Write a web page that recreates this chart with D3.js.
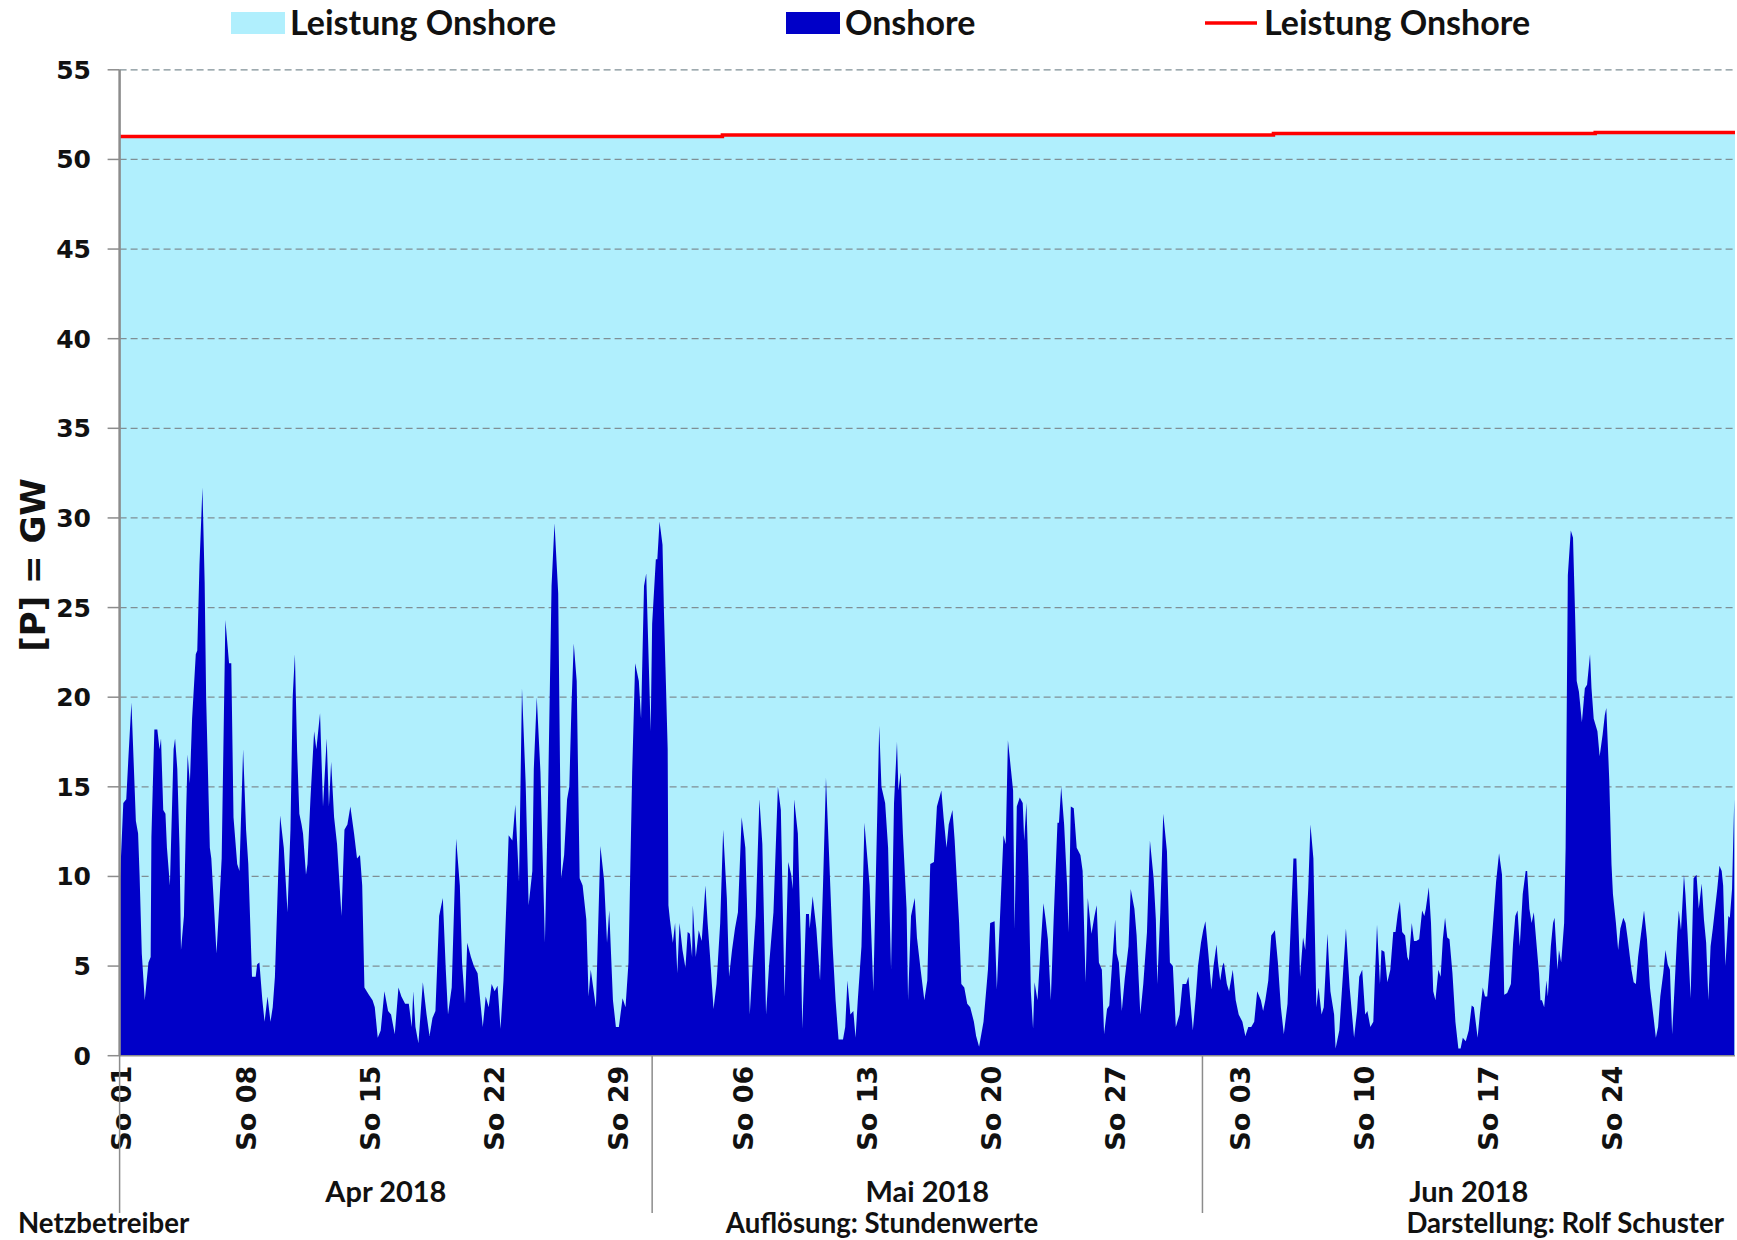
<!DOCTYPE html>
<html>
<head>
<meta charset="utf-8">
<script src="https://cdn.jsdelivr.net/npm/d3@7"></script>
<style>
  body { margin: 0; background: #fff; }
  svg { display: block; }
</style>
</head>
<body>
<div id="chart"></div>
<script>
// Onshore-Einspeisung in GW, Stützpunkte [Stunde ab 01.04.2018 00:00, GW]
const onshoreApr = [
  [0,9.3],[5,14.1],[9,14.3],[12,16.7],[16,19.7],[22,13.1],[25,12.4],[27,10.1],[30,5.7],[34,3.1],[39,5.2],[42,5.5],
  [43,12.2],[47,18.2],[51,18.2],[54,17.1],[56,17.7],[59,13.7],[62,13.5],[64,11.6],[68,9.5],[73,17.1],[75,17.7],
  [78,16.0],[81,11.6],[83,5.9],[87,7.8],[90,13.7],[92,16.8],[95,15.2],[98,18.8],[103,22.4],[105,22.6],[108,27.4],
  [112,31.7],[115,26.4],[117,20.0],[122,11.6],[124,11.0],[127,8.8],[131,5.7],[135,8.6],[138,11.0],[143,24.3],
  [148,21.9],[151,21.9],[154,13.3],[159,10.7],[162,10.3],[167,17.1],[171,12.6],[174,10.7],[179,4.4],[184,4.4],
  [186,5.1],[189,5.2],[193,3.1],[196,1.9],[200,3.3],[204,1.9],[207,2.7],[210,4.4],[217,13.4],[222,11.6],[227,8.0],
  [231,12.6],[234,20.0],[237,22.4],[240,17.0],[243,13.5],[246,12.9],[248,12.4],[252,10.1],[254,10.7],[258,14.3],
  [263,18.1],[266,17.1],[271,19.1],[275,13.9],[280,17.7],[283,13.9],[286,16.4],[290,13.3],[294,11.8],[300,7.8],
  [304,12.6],[308,12.9],[312,13.9],[317,12.4],[321,11.0],[325,11.2],[328,9.5],[331,3.8],[337,3.4],[342,3.1],
  [345,2.7],[349,1.0],[353,1.4],[358,3.6],[363,2.5],[367,2.3],[372,1.2],[377,3.8],[381,3.3],[386,2.9],[391,2.9],
  [395,1.6],[397,3.6],[400,1.6],[404,0.7],[410,4.1],[415,2.3],[419,1.1],[423,2.1],[427,2.5],[432,7.8],[437,8.8],
  [441,4.8],[444,2.3],[449,3.8],[455,12.1],[460,9.5],[463,5.2],[467,2.9],[470,6.3],[475,5.5],[479,5.0],[484,4.6],
  [491,1.6],[495,3.3],[499,2.7],[503,4.0],[507,3.6],[511,3.9],[515,1.5],[519,4.2],[523,8.6],[526,12.3],[531,12.0],
  [535,14.0],[540,9.7],[544,20.5],[549,15.2],[553,8.4],[558,10.3],[560,16.0],[564,20.0],[569,15.8],[575,6.3],
  [579,13.9],[584,26.2],[588,29.7],[593,25.8],[597,9.9],[601,11.2],[605,14.3],[608,15.0],[611,19.6],[614,23.0],
  [618,20.9],[622,9.9],[626,9.5],[631,7.6],[634,3.3],[637,4.8],[641,3.6],[644,2.7],[650,11.7],[655,9.8],[659,6.3],
  [662,8.1],[667,3.1],[671,1.6],[675,1.6],[680,3.2],[684,2.7],[688,5.2],[693,15.8],[697,21.9],[702,20.9],
  [705,18.8],[709,26.2],[712,26.9],[718,18.1]
];

const onshoreMai = [
  [720,24.1],[725,27.7],[727,27.7],[730,29.8],[734,28.5],[736,24.7],[738,21.7],[741,17.1],[742,8.4],[744,7.6],
  [748,6.3],[751,7.4],[754,4.6],[757,7.4],[761,5.9],[765,4.9],[768,6.9],[771,6.8],[774,5.5],[775,8.4],[779,5.5],
  [783,7.0],[787,6.4],[789,7.6],[792,9.5],[795,7.4],[798,5.7],[803,2.6],[807,4.0],[812,7.4],[816,12.6],[821,8.8],
  [824,4.4],[828,5.9],[832,7.1],[836,8.0],[841,13.3],[846,11.6],[848,8.8],[852,2.3],[856,5.2],[860,7.8],[865,14.3],
  [869,11.8],[874,2.3],[878,5.0],[884,8.0],[890,15.0],[894,13.7],[899,3.3],[904,10.8],[908,10.1],[910,9.3],
  [912,14.3],[917,12.4],[921,6.3],[923,1.5],[928,7.9],[932,7.9],[933,7.1],[937,8.9],[942,7.1],[947,4.2],[951,9.5],
  [955,15.5],[959,11.4],[964,6.1],[968,3.1],[972,0.9],[978,0.9],[981,1.6],[984,4.2],[988,2.3],[992,2.5],[995,1.0],
  [998,3.1],[1003,6.1],[1007,13.0],[1011,11.0],[1014,9.5],[1019,3.6],[1023,11.0],[1027,18.4],[1030,15.0],
  [1035,14.1],[1039,11.6],[1043,4.8],[1047,14.1],[1051,17.5],[1053,14.8],[1056,15.8],[1059,12.4],[1064,8.2],
  [1066,3.1],[1070,7.8],[1075,8.8],[1078,6.6],[1083,4.8],[1088,3.1],[1092,4.2],[1096,10.7],[1101,10.8],[1105,13.9],
  [1111,14.8],[1114,13.3],[1118,11.6],[1121,12.9],[1126,13.7],[1129,12.0],[1135,7.4],[1138,4.0],[1142,3.8],
  [1146,2.9],[1150,2.7],[1155,1.9],[1158,1.1],[1162,0.5],[1165,1.2],[1168,1.9],[1174,4.8],[1177,7.4],[1183,7.5],
  [1186,3.7],[1191,8.4],[1195,12.3],[1198,11.8],[1201,17.6],[1205,16.0],[1208,14.8],[1210,7.1],[1213,13.9],
  [1217,14.4],[1221,14.1],[1223,12.0],[1226,14.1],[1229,9.9],[1232,3.6],[1235,1.5],[1237,4.1],[1241,3.1],
  [1245,5.9],[1249,8.5],[1252,7.6],[1255,6.5],[1259,3.1],[1263,7.8],[1268,13.0],[1270,13.0],[1273,15.0],
  [1277,12.9],[1281,9.5],[1283,6.9],[1286,13.9],[1290,13.8],[1294,11.6],[1299,11.2],[1302,10.3],[1306,4.1],
  [1309,8.8],[1314,6.8],[1318,7.8],[1321,8.4],[1324,5.2],[1328,4.8],[1331,1.2],[1335,2.6],[1338,2.8],[1341,4.6],
  [1346,7.6],[1348,5.7],[1351,5.2],[1355,2.5],[1359,4.3],[1364,6.1],[1367,9.3],[1372,8.2],[1375,6.7],[1380,2.3],
  [1384,4.0],[1389,6.9],[1393,12.0],[1398,9.9],[1401,7.6],[1403,4.0],[1407,8.0],[1411,13.5],[1416,11.4],
  [1420,5.2],[1424,5.0],[1428,1.6],[1433,2.3],[1437,4.0],[1442,4.0],[1445,4.4],[1451,1.4],[1455,3.3],[1458,5.0],
  [1462,6.3]
];

const onshoreJun = [
  [1465,7.0],[1468,7.5],[1472,5.7],[1476,3.7],[1479,5.0],[1483,6.2],[1485,5.2],[1488,4.2],[1491,5.0],[1493,5.2],
  [1497,4.0],[1500,3.6],[1505,4.8],[1509,3.1],[1513,2.3],[1518,1.9],[1522,1.1],[1526,1.6],[1530,1.6],[1534,1.9],
  [1538,3.6],[1543,3.1],[1546,2.5],[1549,3.1],[1553,4.2],[1557,6.7],[1562,7.0],[1566,5.2],[1570,2.7],[1574,1.2],
  [1579,2.9],[1583,6.9],[1587,11.0],[1591,11.0],[1596,4.4],[1600,6.6],[1603,5.9],[1607,9.3],[1610,12.9],
  [1614,11.0],[1618,2.7],[1621,3.8],[1625,2.3],[1628,2.7],[1633,6.8],[1637,3.6],[1642,2.3],[1644,0.4],[1649,1.4],
  [1652,3.3],[1658,7.1],[1663,3.8],[1669,1.0],[1673,2.5],[1676,4.4],[1680,4.8],[1684,2.3],[1687,2.5],[1691,1.6],
  [1695,1.9],[1697,4.2],[1700,7.3],[1704,4.0],[1706,5.9],[1710,5.8],[1714,4.1],[1718,4.8],[1722,6.9],[1725,6.9],
  [1728,7.9],[1731,8.6],[1734,6.9],[1738,6.7],[1741,5.5],[1743,5.3],[1747,7.4],[1750,6.4],[1753,6.4],[1757,6.5],
  [1761,8.1],[1764,7.8],[1766,8.2],[1770,9.4],[1773,7.4],[1776,3.6],[1779,3.1],[1783,4.8],[1786,4.4],[1789,6.5],
  [1792,7.7],[1795,6.6],[1798,6.5],[1802,4.6],[1806,1.9],[1810,0.4],[1813,0.4],[1816,1.0],[1820,0.8],[1824,1.4],
  [1828,2.8],[1831,2.7],[1836,1.0],[1839,2.3],[1843,3.8],[1846,3.3],[1849,3.3],[1852,4.8],[1856,6.9],[1861,9.7],
  [1865,11.3],[1869,10.1],[1872,3.4],[1876,3.5],[1881,4.0],[1884,6.3],[1887,7.8],[1890,8.1],[1893,6.1],[1897,9.0],
  [1901,10.3],[1903,10.3],[1906,8.2],[1909,7.4],[1912,8.0],[1919,4.6],[1921,3.1],[1923,3.1],[1926,2.7],[1929,4.2],
  [1931,3.3],[1935,6.1],[1938,7.4],[1940,7.7],[1944,4.8],[1946,5.9],[1949,5.2],[1953,7.4],[1955,11.6],[1958,26.8],
  [1962,29.3],[1965,28.9],[1968,24.3],[1970,20.9],[1973,20.3],[1977,18.6],[1981,20.5],[1984,20.7],[1988,22.4],
  [1990,20.5],[1993,18.8],[1998,18.1],[2001,16.7],[2005,17.9],[2008,19.0],[2010,19.4],[2014,15.4],[2017,10.7],
  [2019,9.0],[2023,7.4],[2026,5.9],[2029,7.1],[2033,7.7],[2036,7.4],[2039,6.5],[2044,4.8],[2047,4.1],[2050,4.0],
  [2053,5.5],[2056,6.5],[2061,8.1],[2065,6.5],[2069,3.8],[2074,2.1],[2077,1.0],[2080,1.6],[2083,3.3],[2087,4.6],
  [2090,5.9],[2093,5.1],[2096,4.8],[2099,1.2],[2102,3.6],[2106,6.9],[2108,8.1],[2111,7.0],[2115,10.1],[2117,9.0],
  [2120,6.7],[2124,3.2],[2128,9.9],[2132,10.1],[2135,8.2],[2139,9.6],[2142,7.6],[2145,6.3],[2148,3.1],[2151,6.1],
  [2154,7.1],[2157,8.2],[2160,9.3],[2163,10.6],[2166,10.3],[2168,9.5],[2171,5.0],[2175,7.8],[2177,7.7],[2180,9.3],
  [2183,14.3]
];

// installierte Leistung Onshore (Stufen), Stunde ab Beginn / GW
const leistungStunden = [0, 815, 1560, 1995, 2184];
const leistungGW = [51.28, 51.36, 51.44, 51.5, 51.5];

const yTicks = [0, 5, 10, 15, 20, 25, 30, 35, 40, 45, 50, 55];
const monate = ["Apr 2018", "Mai 2018", "Jun 2018"];
const legende = ["Leistung Onshore", "Onshore", "Leistung Onshore"];
const fussnoten = ["Netzbetreiber", "Auflösung: Stundenwerte", "Darstellung: Rolf Schuster"];

const width = 1737, height = 1240;
const colors = { leistung: "#b0effd", onshore: "#0000c8", linie: "#ff0000", grid: "#7f8f95", axis: "#8c8c8c" };
const narrow = "Lato, 'Open Sans', sans-serif";
const wide = "'DejaVu Sans', Verdana, sans-serif";

const start = new Date(Date.UTC(2018, 3, 1));
const end = new Date(Date.UTC(2018, 6, 1));
const t = h => d3.utcHour.offset(start, h);

const x = d3.scaleUtc().domain([start, end]).range([119.6, 1735]);
const y = d3.scaleLinear().domain([0, 55]).range([1055.7, 69.8]);

const onshore = onshoreApr.concat(onshoreMai, onshoreJun);
const leistung = leistungStunden.map((h, i) => [h, leistungGW[i]]);

const svg = d3.select("#chart").append("svg")
  .attr("width", width).attr("height", height)
  .attr("viewBox", [0, 0, width, height]);

svg.append("rect").attr("width", width).attr("height", height).attr("fill", "#fff");

// hellblaue Fläche bis zur installierten Leistung
svg.append("path")
  .datum(leistung)
  .attr("fill", colors.leistung)
  .attr("d", d3.area().curve(d3.curveStepAfter)
    .x(d => x(t(d[0]))).y0(y(0)).y1(d => y(d[1])));

// Gitterlinien
const grid = svg.append("g");
grid.selectAll("line.grid").data(yTicks.filter(v => v > 0)).join("line")
  .attr("class", "grid")
  .attr("x1", x(start)).attr("x2", x(end))
  .attr("y1", d => y(d)).attr("y2", d => y(d))
  .attr("stroke", colors.grid).attr("stroke-width", 1.3)
  .attr("stroke-dasharray", "7,4");
grid.selectAll("line.tick").data(yTicks).join("line")
  .attr("class", "tick")
  .attr("x1", x(start) - 12).attr("x2", x(start))
  .attr("y1", d => y(d)).attr("y2", d => y(d))
  .attr("stroke", colors.axis).attr("stroke-width", 1.5);

// Onshore-Einspeisung
svg.append("path")
  .datum(onshore)
  .attr("fill", colors.onshore)
  .attr("d", d3.area()
    .x(d => x(t(d[0]))).y0(y(0)).y1(d => y(d[1])));

// Leistungslinie
svg.append("path")
  .datum(leistung)
  .attr("fill", "none")
  .attr("stroke", colors.linie)
  .attr("stroke-width", 3.5)
  .attr("d", d3.line().curve(d3.curveStepAfter)
    .x(d => x(t(d[0]))).y(d => y(d[1])));

// Achsen
svg.append("line")
  .attr("x1", x(start)).attr("x2", x(start))
  .attr("y1", y(55)).attr("y2", y(0))
  .attr("stroke", colors.axis).attr("stroke-width", 2.5);
svg.append("line")
  .attr("x1", x(start)).attr("x2", x(end))
  .attr("y1", y(0)).attr("y2", y(0))
  .attr("stroke", colors.axis).attr("stroke-width", 1.5);

// Y-Beschriftung
svg.append("g").selectAll("text").data(yTicks).join("text")
  .attr("x", 91).attr("y", d => y(d)).attr("dy", "0.36em")
  .attr("text-anchor", "end")
  .attr("font-family", wide).attr("font-weight", "bold").attr("font-size", 25)
  .attr("fill", "#111")
  .text(d => d);

svg.append("text")
  .attr("transform", `translate(45,${565}) rotate(-90)`)
  .attr("text-anchor", "middle")
  .attr("font-family", wide).attr("font-weight", "bold").attr("font-size", 34)
  .attr("fill", "#111")
  .text("[P] = GW");

// X-Beschriftung: Sonntage
const sonntage = d3.utcSunday.range(start, end);
const fmtTag = d3.utcFormat("%d");
svg.append("g").selectAll("text").data(sonntage).join("text")
  .attr("transform", d => `translate(${x(d) + 2},${y(0) + 10}) rotate(-90)`)
  .attr("dy", "0.36em")
  .attr("text-anchor", "end")
  .attr("font-family", wide).attr("font-weight", "bold").attr("font-size", 27)
  .attr("fill", "#111")
  .text(d => "So " + fmtTag(d));

// Monatstrenner und Monatsnamen
const monatsStarts = d3.utcMonth.range(start, end);
svg.append("g").selectAll("line").data(monatsStarts).join("line")
  .attr("x1", d => x(d)).attr("x2", d => x(d))
  .attr("y1", y(0)).attr("y2", 1213)
  .attr("stroke", colors.axis).attr("stroke-width", 1.5);

svg.append("g").selectAll("text").data(monatsStarts).join("text")
  .attr("x", d => (x(d) + x(d3.utcMonth.offset(d, 1))) / 2)
  .attr("y", 1192).attr("dy", "0.36em")
  .attr("text-anchor", "middle")
  .attr("font-family", narrow).attr("font-weight", "bold").attr("font-size", 29)
  .attr("fill", "#111")
  .text((d, i) => monate[i]);

// Fußzeile
const fussX = [18, 882, 1724];
const fussAnchor = ["start", "middle", "end"];
svg.append("g").selectAll("text").data(fussnoten).join("text")
  .attr("x", (d, i) => fussX[i]).attr("y", 1223).attr("dy", "0.36em")
  .attr("text-anchor", (d, i) => fussAnchor[i])
  .attr("font-family", narrow).attr("font-weight", "bold").attr("font-size", 27.6)
  .attr("fill", "#111")
  .text(d => d);

// Legende
const legX = [231, 786, 1205];
const leg = svg.append("g").selectAll("g").data(legende).join("g")
  .attr("transform", (d, i) => `translate(${legX[i]},23)`);
leg.each(function (d, i) {
  const g = d3.select(this);
  if (i === 2) {
    g.append("line").attr("x1", 0).attr("x2", 52).attr("y1", 0).attr("y2", 0)
      .attr("stroke", colors.linie).attr("stroke-width", 3.5);
  } else {
    g.append("rect").attr("x", 0).attr("y", -11).attr("width", 54).attr("height", 22)
      .attr("fill", i === 0 ? colors.leistung : colors.onshore);
  }
  g.append("text").attr("x", 59).attr("dy", "0.36em")
    .attr("font-family", narrow).attr("font-weight", "bold").attr("font-size", 34)
    .attr("fill", "#111")
    .text(d);
});
</script>
</body>
</html>
